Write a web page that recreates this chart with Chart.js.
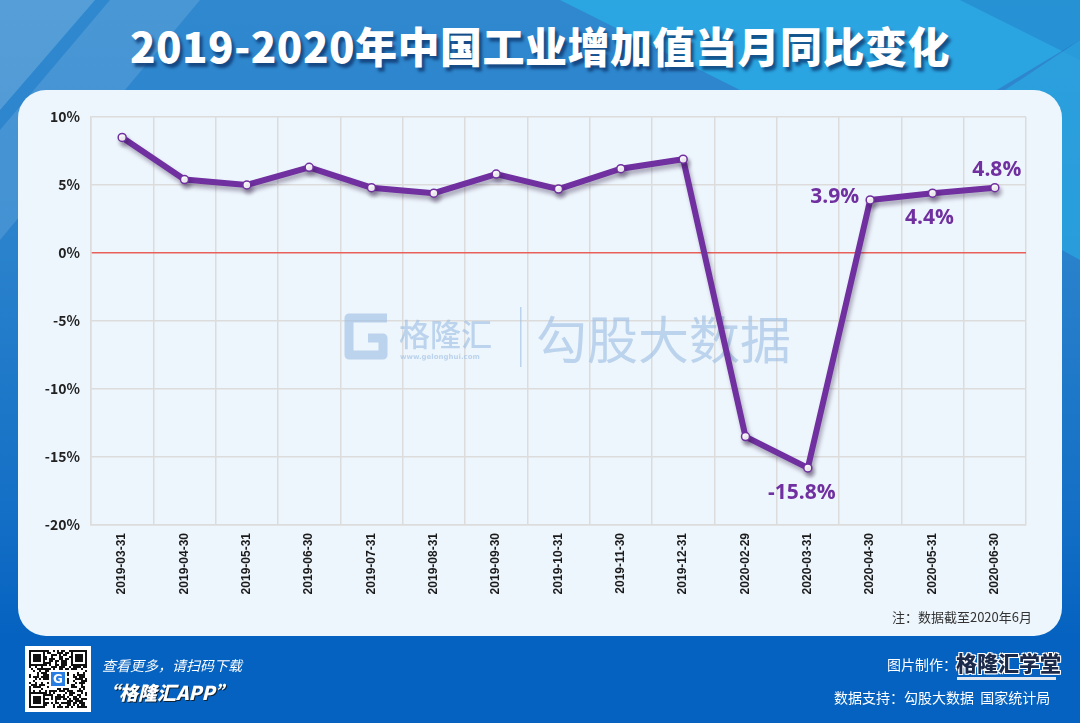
<!DOCTYPE html>
<html>
<head>
<meta charset="utf-8">
<script src="https://cdn.jsdelivr.net/npm/chart.js@4.4.1/dist/chart.umd.min.js"></script>
<style>
  body { margin: 0; width: 1080px; height: 723px; overflow: hidden; font-family: "Noto Sans CJK SC", "Noto Sans", sans-serif; }
  #bg { position: absolute; left: 0; top: 0; width: 1080px; height: 723px;
    background: linear-gradient(180deg, #3089cf 0%, #2a82cc 35%, #1470c6 70%, #0562c0 88%, #0562c0 100%); overflow: hidden; }
  .sh { position: absolute; left: 0; top: 0; width: 1080px; height: 723px; }
  .s1 { background: rgba(255,255,255,0.18); clip-path: polygon(0 0, 95px 0, 0 110px); }
  .s2 { background: rgba(255,255,255,0.12); clip-path: polygon(110px 0, 200px 0, 0 240px, 0 130px); }
  .s3 { background: rgba(40,190,240,0.55); clip-path: polygon(560px 0, 1080px 0, 1080px 40px, 880px 160px); }
  .s4 { background: rgba(30,110,190,0.35); clip-path: polygon(960px 0, 1080px 0, 1080px 60px); }
  .s5 { background: rgba(40,190,240,0.45); clip-path: polygon(1080px 40px, 1080px 260px, 900px 160px); }
  #card { position: absolute; left: 18px; top: 90px; width: 1044px; height: 546px; background: #eef6fd; border-radius: 28px; }
  #title { position: absolute; left: 0; top: 15px; width: 1080px; text-align: center; color: #fff; font-size: 42px; font-weight: 900;
    line-height: 60px; text-shadow: 3px 4px 3px rgba(10,45,100,0.7); letter-spacing: 0.5px; }
  #chart { position: absolute; left: 0; top: 0; }
  #note { position: absolute; right: 48px; top: 607px; font-size: 13px; color: #333; }
  .ft { position: absolute; color: #fff; white-space: nowrap; }
  #qr { position: absolute; left: 25px; top: 646px; width: 66px; height: 66px; background: #fff; }
</style>
</head>
<body>
<div id="bg">
  <div class="sh s1"></div><div class="sh s2"></div><div class="sh s3"></div><div class="sh s4"></div><div class="sh s5"></div>
</div>
<div id="title">2019-2020年中国工业增加值当月同比变化</div>
<div id="card"></div>
<canvas id="chart" width="1080" height="723"></canvas>
<div id="note">注：数据截至2020年6月</div>
<canvas id="qr" width="66" height="66"></canvas>
<div class="ft" style="left:102px;top:655px;font-size:14px;font-style:italic;">查看更多，请扫码下载</div>
<div class="ft" style="left:100px;top:678px;font-size:19px;font-weight:900;font-style:italic;text-shadow:1px 1px 0 #123;">“格隆汇APP”</div>
<div class="ft" style="left:887px;top:654px;font-size:14px;">图片制作：</div>
<div class="ft" style="left:956px;top:647px;font-size:21px;font-weight:900;color:#1b2a4a;text-shadow:-1px -1px 0 #fff,1px -1px 0 #fff,-1px 1px 0 #fff,1px 1px 0 #fff;">格隆汇<span style="color:#1b2a4a">学堂</span></div>
<div style="position:absolute;left:957px;top:677px;width:99px;height:3px;background:#dfe8f3;"></div>
<div class="ft" style="left:834px;top:687px;font-size:14px;">数据支持：勾股大数据&nbsp;&nbsp;国家统计局</div>
<script>
const categories = ['2019-03-31', '2019-04-30', '2019-05-31', '2019-06-30', '2019-07-31', '2019-08-31', '2019-09-30',
  '2019-10-31', '2019-11-30', '2019-12-31', '2020-02-29', '2020-03-31', '2020-04-30', '2020-05-31', '2020-06-30'];
const growth = [8.5, 5.4, 5.0, 6.3, 4.8, 4.4, 5.8, 4.7, 6.2, 6.9, -13.5, -15.8, 3.9, 4.4, 4.8];
const labelled = [11, 12, 13, 14];
const yMin = -20, yMax = 10, yStep = 5;

const purple = '#7030a0';
const gridGrey = '#dcdcdc';

// watermark between grid and line
const watermark = {
  id: 'watermark',
  beforeDatasetsDraw(chart) {
    const { ctx } = chart;
    ctx.save();
    ctx.strokeStyle = 'rgba(160,192,228,0.65)';
    ctx.fillStyle = 'rgba(160,192,228,0.65)';
    ctx.lineWidth = 9;
    ctx.lineJoin = 'round';
    ctx.beginPath();
    ctx.moveTo(387, 318); ctx.lineTo(349, 318); ctx.lineTo(349, 355); ctx.lineTo(383, 355); ctx.lineTo(383, 338); ctx.lineTo(368, 338);
    ctx.stroke();
    ctx.font = '500 31px "Noto Sans CJK SC"';
    ctx.textBaseline = 'middle';
    ctx.fillText('格隆汇', 399, 334);
    ctx.font = 'bold 7px "DejaVu Sans"';
    ctx.fillText('www.gelonghui.com', 400, 357);
    ctx.fillRect(520, 307, 1.5, 60);
    ctx.font = '400 51px "Noto Sans CJK SC"';
    ctx.fillText('勾股大数据', 536, 340);
    ctx.restore();
  },
};

const lineShadow = {
  id: 'lineShadow',
  beforeDatasetDraw(chart) {
    const { ctx } = chart;
    ctx.save();
    ctx.shadowColor = 'rgba(40,20,60,0.35)';
    ctx.shadowBlur = 4;
    ctx.shadowOffsetX = 2;
    ctx.shadowOffsetY = 4;
  },
  afterDatasetDraw(chart) { chart.ctx.restore(); },
};

const pointLabels = {
  id: 'pointLabels',
  afterDatasetsDraw(chart) {
    const { ctx } = chart;
    const meta = chart.getDatasetMeta(0);
    const place = { 11: [-6, 25, 'center'], 12: [-11, -3, 'right'], 13: [-3, 25, 'center'], 14: [2, -18, 'center'] };
    ctx.save();
    ctx.font = 'bold 21px "Open Sans"';
    ctx.fillStyle = purple;
    ctx.textBaseline = 'middle';
    labelled.forEach((i) => {
      const p = meta.data[i], [dx, dy, align] = place[i];
      ctx.textAlign = align;
      ctx.fillText(growth[i].toFixed(1) + '%', p.x + dx, p.y + dy);
    });
    ctx.restore();
  },
};

new Chart(document.getElementById('chart'), {
  type: 'line',
  data: {
    labels: categories,
    datasets: [{
      data: growth,
      borderColor: purple,
      borderWidth: 6,
      pointRadius: 4,
      pointBackgroundColor: '#fff',
      pointBorderColor: purple,
      pointBorderWidth: 1.5,
      tension: 0,
    }],
  },
  options: {
    responsive: false,
    animation: false,
    layout: { padding: { top: 117, right: 54, bottom: 0, left: 0 } },
    plugins: { legend: { display: false }, tooltip: { enabled: false } },
    scales: {
      x: {
        offset: true,
        grid: { offset: true, color: gridGrey, lineWidth: 1.5, drawTicks: false },
        border: { color: gridGrey, width: 1.5 },
        ticks: { minRotation: 90, maxRotation: 90, padding: 8, color: '#1a1a1a', font: { family: 'Liberation Sans', weight: 'bold', size: 12 } },
        afterFit(scale) { scale.height = 198; },
      },
      y: {
        min: yMin, max: yMax,
        grid: {
          color: (c) => (c.tick && c.tick.value === 0 ? '#e8605a' : gridGrey),
          lineWidth: 1.5, drawTicks: false,
        },
        border: { color: gridGrey, width: 1.5 },
        ticks: {
          stepSize: yStep, padding: 11, color: '#222',
          font: { family: 'Noto Sans CJK SC', weight: 'bold', size: 14 },
          callback: (v) => v + '%',
        },
        afterFit(scale) { scale.width = 91; },
      },
    },
  },
  plugins: [watermark, lineShadow, pointLabels],
});

// decorative QR-like block
(function () {
  const c = document.getElementById('qr').getContext('2d');
  c.fillStyle = '#fff'; c.fillRect(0, 0, 66, 66);
  c.fillStyle = '#111';
  let s = 7;
  for (let y = 0; y < 29; y++) for (let x = 0; x < 29; x++) {
    s = (s * 16807) % 2147483647;
    if (s % 2) c.fillRect(4 + x * 2, 4 + y * 2, 2, 2);
  }
  [[4, 4], [46, 4], [4, 46]].forEach(([x, y]) => {
    c.fillStyle = '#111'; c.fillRect(x, y, 16, 16);
    c.fillStyle = '#fff'; c.fillRect(x + 2, y + 2, 12, 12);
    c.fillStyle = '#111'; c.fillRect(x + 4, y + 4, 8, 8);
  });
  c.fillStyle = '#fff'; c.fillRect(24, 24, 18, 18);
  c.fillStyle = '#2a7de1'; c.fillRect(26, 26, 14, 14);
  c.fillStyle = '#fff'; c.font = 'bold 12px "DejaVu Sans"'; c.textAlign = 'center'; c.textBaseline = 'middle';
  c.fillText('G', 33, 34);
})();
</script>
</body>
</html>
